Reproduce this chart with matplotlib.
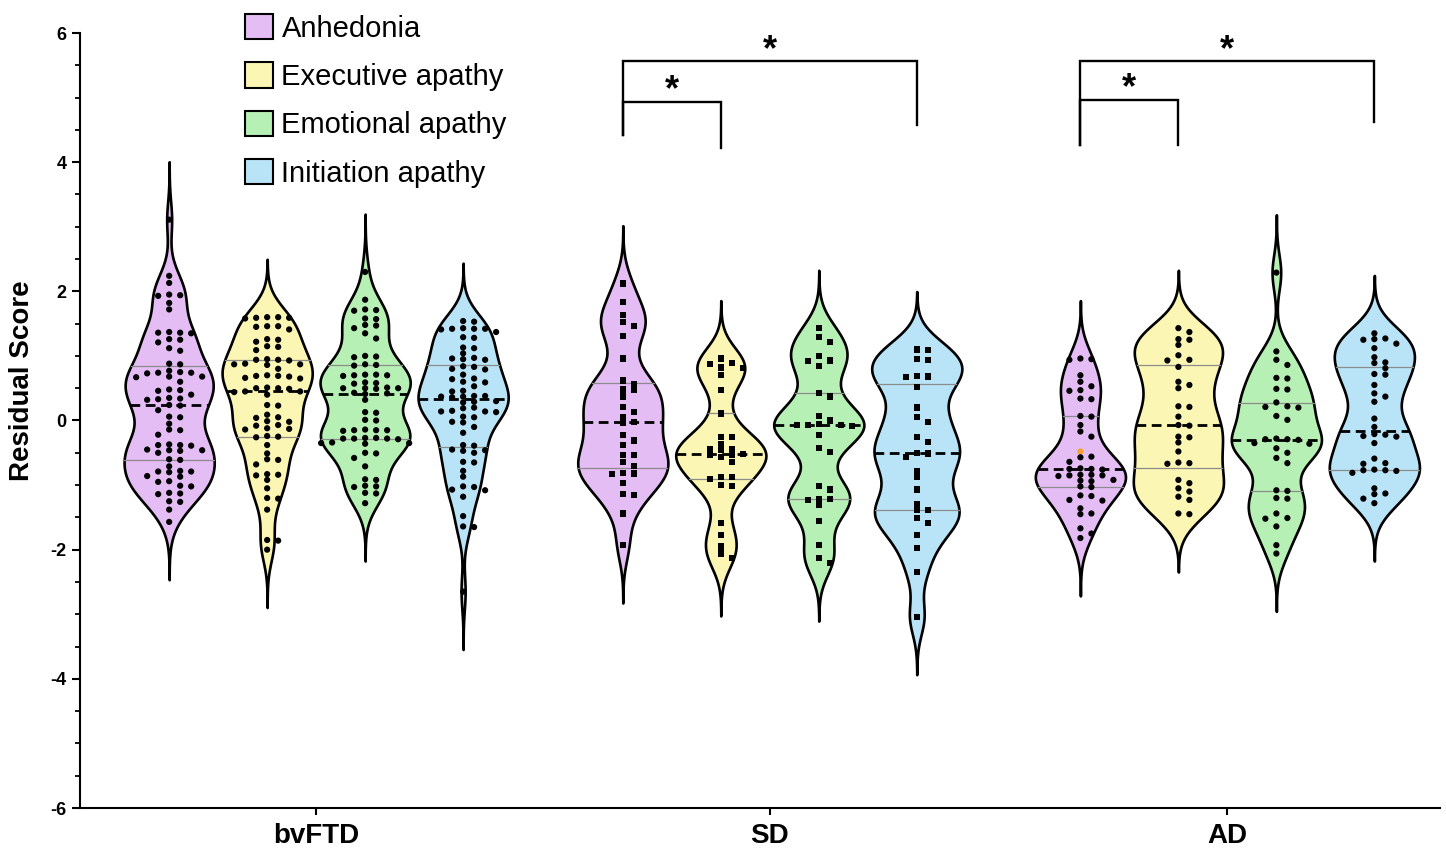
import numpy as np
import matplotlib.pyplot as plt
from matplotlib.patches import Patch
from matplotlib.ticker import MultipleLocator

plt.rcParams['font.family'] = ['Liberation Sans', 'DejaVu Sans']
plt.rcParams['axes.unicode_minus'] = False

# ---------------------------------------------- Data
groups = ['bvFTD', 'SD', 'AD']
measures = ['Anhedonia', 'Executive apathy', 'Emotional apathy', 'Initiation apathy']
fills = ['#e5bdf5', '#fbf6b4', '#b7f0b5', '#b9e3f6']

bvftd_anh = [3.11, 2.24, 2.13, 1.94, 1.93, 1.95, 1.82, 1.72, 1.36, 1.36, 1.37, 1.35, 1.25, 1.26,
             1.21, 1.12, 1.08, 0.87, 0.88, 0.77, 0.74, 0.75, 0.74, 0.73, 0.68, 0.67, 0.68, 0.60,
             0.47, 0.48, 0.46, 0.40, 0.35, 0.34, 0.32, 0.33, 0.24, 0.23, 0.16, 0.06, 0.05, -0.05,
             -0.15, -0.14, -0.22, -0.38, -0.37, -0.39, -0.38, -0.46, -0.45, -0.47, -0.46, -0.50,
             -0.61, -0.60, -0.71, -0.79, -0.78, -0.80, -0.79, -0.87, -0.86, -0.94, -0.95, -1.02,
             -1.01, -1.13, -1.12, -1.14, -1.25, -1.26, -1.38, -1.57]
bvftd_exe = [1.60, 1.59, 1.58, 1.59, 1.60, 1.46, 1.46, 1.45, 1.41, 1.25, 1.26, 1.22, 1.15, 1.14,
             1.09, 0.94, 0.93, 0.94, 0.95, 0.87, 0.88, 0.86, 0.87, 0.80, 0.69, 0.70, 0.68, 0.69,
             0.66, 0.65, 0.50, 0.51, 0.49, 0.50, 0.45, 0.44, 0.45, 0.40, 0.24, 0.23, 0.09, 0.05,
             0.04, -0.02, -0.01, -0.07, -0.08, -0.13, -0.12, -0.14, -0.25, -0.26, -0.24, -0.38,
             -0.51, -0.61, -0.60, -0.68, -0.84, -0.85, -0.83, -0.92, -1.05, -1.20, -1.21, -1.38,
             -1.85, -1.86, -2.00]
bvftd_emo = [2.30, 1.87, 1.71, 1.70, 1.72, 1.58, 1.57, 1.48, 1.47, 1.43, 1.35, 1.27, 0.99, 1.00,
             0.98, 0.86, 0.87, 0.85, 0.70, 0.71, 0.69, 0.70, 0.71, 0.58, 0.57, 0.59, 0.50, 0.51,
             0.49, 0.50, 0.50, 0.42, 0.41, 0.43, 0.32, 0.13, 0.12, 0.00, 0.01, -0.15, -0.14,
             -0.16, -0.15, -0.15, -0.28, -0.27, -0.29, -0.28, -0.28, -0.27, -0.35, -0.36, -0.34,
             -0.35, -0.51, -0.50, -0.58, -0.71, -0.92, -0.91, -1.02, -1.01, -1.03, -1.13, -1.12,
             -1.28]
bvftd_ini = [1.53, 1.54, 1.42, 1.43, 1.42, 1.41, 1.42, 1.37, 1.28, 1.29, 1.12, 1.13, 1.04, 0.96,
             0.97, 0.94, 0.95, 0.83, 0.84, 0.79, 0.80, 0.71, 0.64, 0.65, 0.59, 0.60, 0.53, 0.45,
             0.46, 0.37, 0.38, 0.37, 0.36, 0.38, 0.29, 0.28, 0.30, 0.19, 0.20, 0.14, 0.15, 0.13,
             0.14, 0.06, 0.05, -0.02, -0.03, -0.10, -0.19, -0.38, -0.39, -0.46, -0.45, -0.47,
             -0.50, -0.64, -0.65, -0.78, -0.87, -1.02, -1.03, -1.07, -1.08, -1.18, -1.48, -1.64,
             -1.65, -2.65]

sd_anh = [2.12, 1.84, 1.63, 1.53, 1.46, 1.31, 0.96, 0.62, 0.56, 0.47, 0.48, 0.37, 0.21, 0.13,
          0.06, -0.02, -0.03, -0.23, -0.31, -0.38, -0.53, -0.54, -0.64, -0.71, -0.82, -0.81,
          -0.83, -0.97, -1.14, -1.15, -1.44, -1.93]
sd_exe = [0.96, 0.88, 0.89, 0.81, 0.82, 0.71, 0.47, 0.11, -0.25, -0.26, -0.37, -0.45, -0.44,
          -0.46, -0.53, -0.52, -0.54, -0.57, -0.64, -0.88, -0.87, -0.90, -1.00, -1.01, -1.59,
          -1.77, -1.95, -2.06, -2.13]
sd_emo = [1.43, 1.29, 1.22, 1.00, 0.92, 0.93, 0.84, 0.43, 0.37, 0.07, 0.00, -0.07, -0.08, -0.07,
          -0.06, -0.07, -0.22, -0.43, -0.49, -1.01, -1.07, -1.22, -1.23, -1.21, -1.30, -1.56,
          -1.93, -2.13, -2.21]
sd_ini = [1.09, 1.10, 0.94, 0.95, 0.68, 0.69, 0.67, 0.52, 0.20, 0.06, -0.02, -0.25, -0.33, -0.51,
          -0.50, -0.56, -0.78, -0.88, -1.07, -1.30, -1.38, -1.39, -1.51, -1.59, -1.77, -1.97,
          -2.34, -3.04]

ad_anh = [0.95, 0.96, 0.94, 0.70, 0.60, 0.53, 0.46, 0.47, 0.33, 0.34, 0.06, 0.07, -0.07, -0.17,
          -0.25, -0.48, -0.56, -0.57, -0.64, -0.75, -0.74, -0.76, -0.75, -0.85, -0.84, -0.86,
          -0.85, -0.84, -0.93, -0.92, -0.94, -1.03, -1.02, -1.17, -1.16, -1.23, -1.24, -1.36,
          -1.44, -1.45, -1.67, -1.75, -1.82]
ad_exe = [1.43, 1.37, 1.25, 1.26, 1.17, 1.01, 0.93, 0.94, 0.83, 0.60, 0.55, 0.50, 0.21, 0.22,
          0.06, -0.07, -0.08, -0.25, -0.26, -0.34, -0.48, -0.66, -0.67, -0.65, -0.92, -0.97,
          -1.05, -1.10, -1.18, -1.23, -1.44, -1.45]
ad_emo = [2.29, 1.07, 0.94, 0.86, 0.65, 0.66, 0.48, 0.49, 0.28, 0.21, 0.22, 0.20, 0.07, 0.01,
          -0.29, -0.28, -0.30, -0.29, -0.35, -0.36, -0.43, -0.50, -0.58, -0.66, -1.08, -1.09,
          -1.20, -1.21, -1.44, -1.51, -1.52, -1.64, -1.93, -2.06]
ad_ini = [1.35, 1.26, 1.27, 1.25, 1.19, 1.12, 0.98, 0.89, 0.90, 0.81, 0.71, 0.72, 0.55, 0.42,
          0.37, 0.29, 0.03, -0.10, -0.21, -0.22, -0.25, -0.24, -0.35, -0.59, -0.66, -0.67,
          -0.77, -0.76, -0.78, -0.77, -0.81, -1.05, -1.13, -1.14, -1.21, -1.28]

data = {
    'bvFTD': [bvftd_anh, bvftd_exe, bvftd_emo, bvftd_ini],
    'SD': [sd_anh, sd_exe, sd_emo, sd_ini],
    'AD': [ad_anh, ad_exe, ad_emo, ad_ini],
}
markers = {'bvFTD': 'o', 'SD': 's', 'AD': 'o'}
highlight = ('AD', 0, -0.48)   # the single orange dot

# significance brackets: group, measure a, measure b, bar height, drop a, drop b
brackets = [
    ('SD', 0, 3, 5.56, 4.42, 4.57),
    ('SD', 0, 1, 4.93, 4.42, 4.22),
    ('AD', 0, 3, 5.56, 4.26, 4.62),
    ('AD', 0, 1, 4.96, 4.26, 4.26),
]

# ---------------------------------------------- Layout
group_x = [0.0, 4.63, 9.3]
slot = [-1.5, -0.5, 0.5, 1.5]
bw = 0.28
half = 0.46
xlim = (-2.41, 11.47)

fig = plt.figure(figsize=(14.46, 8.55), dpi=100)
ax = fig.add_axes([80 / 1446, 1 - 808 / 855, 1360 / 1446, 775 / 855])
ax.set_xlim(*xlim)
ax.set_ylim(-6, 6)

px_x = 1360 / (xlim[1] - xlim[0])
px_y = 775 / 12


def kde_width(vals):
    v = np.asarray(vals)
    grid = np.linspace(v.min() - 3.2 * bw, v.max() + 3.2 * bw, 500)
    dens = np.exp(-0.5 * ((grid[:, None] - v[None, :]) / bw) ** 2).sum(axis=1)
    return grid, half * dens / dens.max()


def swarm(vals, grid, w, step=5.5, gap_x=10.0, gap_y=5.2):
    # column-style dot plot, kept inside the violin where possible
    ys = np.asarray(vals) * px_y
    room = np.interp(vals, grid, w) * px_x - 4
    out = np.zeros(len(ys))
    done = []
    cands = [0.0]
    for k in range(1, 12):
        cands += [k * step, -k * step]
    for i in np.argsort(-ys):
        free = [c for c in cands
                if all(abs(c - out[j]) >= gap_x or abs(ys[i] - ys[j]) >= gap_y for j in done)]
        inside = [c for c in free if abs(c) <= room[i]]
        out[i] = inside[0] if inside else free[0]
        done.append(i)
    return out / px_x


def violin(xc, grid, w, vals, color):
    ax.fill_betweenx(grid, xc - w, xc + w, facecolor=color, edgecolor='black',
                     lw=1.9, zorder=2)
    q1, med, q3 = np.percentile(vals, [25, 50, 75])
    for q in (q1, q3):
        hw = np.interp(q, grid, w)
        ax.plot([xc - hw, xc + hw], [q, q], color='#8c8c8c', lw=0.9, zorder=3)
    hw = np.interp(med, grid, w)
    ax.plot([xc - hw, xc + hw], [med, med], color='black', lw=2.0,
            linestyle=(0, (3.5, 2)), zorder=3)


# ---------------------------------------------- Plot
for g, gx in zip(groups, group_x):
    for m, vals in enumerate(data[g]):
        xc = gx + slot[m]
        grid, w = kde_width(vals)
        violin(xc, grid, w, vals, fills[m])
        xs = xc + swarm(vals, grid, w)
        cols = ['black'] * len(vals)
        if highlight[0] == g and highlight[1] == m:
            cols[int(np.argmin(np.abs(np.asarray(vals) - highlight[2])))] = '#f5a033'
        ax.scatter(xs, vals, s=20, marker=markers[g], c=cols, linewidths=0, zorder=4)

for g, a, b, top, da, db in brackets:
    gx = group_x[groups.index(g)]
    xa, xb = gx + slot[a], gx + slot[b]
    ax.plot([xa, xa, xb, xb], [da, top, top, db], color='black', lw=1.7,
            solid_joinstyle='miter', clip_on=False, zorder=5)
    ax.text((xa + xb) / 2, top - 0.1, '*', ha='center', va='bottom',
            fontsize=26, fontweight='bold')

# ---------------------------------------------- Axes
for s in ['top', 'right']:
    ax.spines[s].set_visible(False)
for s in ['left', 'bottom']:
    ax.spines[s].set_linewidth(1.5)

ax.set_yticks(np.arange(-6, 7, 2))
ax.yaxis.set_minor_locator(MultipleLocator(0.5))
ax.tick_params(axis='y', which='major', length=6, width=1.5, labelsize=13)
ax.tick_params(axis='y', which='minor', length=3.5, width=1.3)
for t in ax.get_yticklabels():
    t.set_fontweight('bold')

ax.set_xticks(group_x)
ax.set_xticklabels(groups, fontsize=20, fontweight='bold')
ax.tick_params(axis='x', length=5, width=1.5, pad=6)

ax.set_ylabel('Residual Score', fontsize=20, fontweight='bold')
ax.yaxis.set_label_coords(-0.033, 0.552)

handles = [Patch(facecolor=c, edgecolor='black', lw=1.5) for c in fills]
fig.legend(handles, measures, loc='upper left', bbox_to_anchor=(245 / 1446, 1 - 14 / 855),
           frameon=False, fontsize=21, handlelength=0.95, handleheight=0.95,
           handletextpad=0.3, labelspacing=0.68, borderpad=0, borderaxespad=0)

fig.savefig('out.png', dpi=100)
